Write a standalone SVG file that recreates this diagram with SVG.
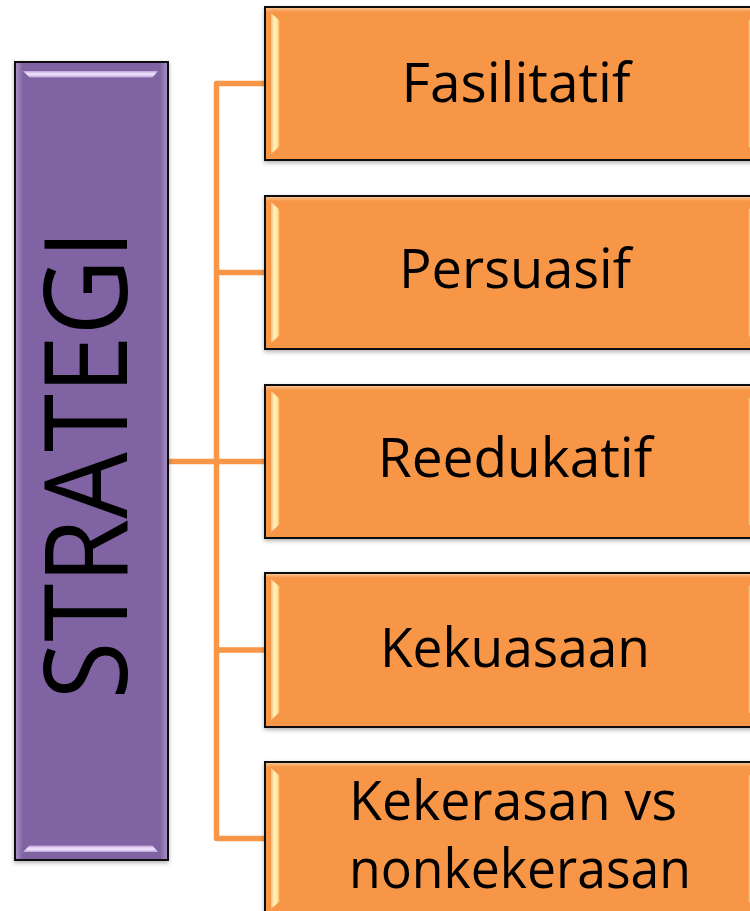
<svg xmlns="http://www.w3.org/2000/svg" width="750" height="911" viewBox="0 0 750 911">
  <style>
    .box-o { fill: #F79646; stroke: #111; stroke-width: 2; }
    .box-p { fill: #8064A2; stroke: #111; stroke-width: 2; }
    .lbl { font-family: "Open Sans", "Liberation Sans", sans-serif; font-size: 55px; fill: #000; text-anchor: middle; }
    .title { font-family: "Open Sans", "Liberation Sans", sans-serif; font-size: 115px; fill: #000; text-anchor: middle; }
    .conn { fill: none; stroke: #F79646; stroke-width: 5.5; stroke-linejoin: round; }
  </style>
  <defs>
    <filter id="sh" x="-5%" y="-5%" width="110%" height="110%">
      <feDropShadow dx="0" dy="2" stdDeviation="2" flood-color="#000" flood-opacity="0.3"/>
    </filter>
    <linearGradient id="hlL" x1="0" y1="0" x2="1" y2="0">
      <stop offset="0" stop-color="#F9B57C"/>
      <stop offset="0.35" stop-color="#FFF3B8"/>
      <stop offset="0.7" stop-color="#FFE6A0"/>
      <stop offset="1" stop-color="#F79646"/>
    </linearGradient>
    <linearGradient id="hlR" x1="1" y1="0" x2="0" y2="0">
      <stop offset="0" stop-color="#F9B57C"/>
      <stop offset="0.35" stop-color="#FFF3B8"/>
      <stop offset="0.7" stop-color="#FFE6A0"/>
      <stop offset="1" stop-color="#F79646"/>
    </linearGradient>
    <linearGradient id="edgeO" x1="0" y1="0" x2="0" y2="1">
      <stop offset="0" stop-color="#FBC28F"/>
      <stop offset="1" stop-color="#F79646"/>
    </linearGradient>
    <linearGradient id="hlT" x1="0" y1="0" x2="0" y2="1">
      <stop offset="0" stop-color="#B9A3D6"/>
      <stop offset="0.4" stop-color="#F1E3FF"/>
      <stop offset="0.75" stop-color="#D9C4F0"/>
      <stop offset="1" stop-color="#8064A2"/>
    </linearGradient>
    <linearGradient id="hlB" x1="0" y1="1" x2="0" y2="0">
      <stop offset="0" stop-color="#B9A3D6"/>
      <stop offset="0.4" stop-color="#F1E3FF"/>
      <stop offset="0.75" stop-color="#D9C4F0"/>
      <stop offset="1" stop-color="#8064A2"/>
    </linearGradient>
    <linearGradient id="sideP" x1="0" y1="0" x2="1" y2="0">
      <stop offset="0" stop-color="#A58FC4"/>
      <stop offset="1" stop-color="#8064A2"/>
    </linearGradient>
    <linearGradient id="sidePR" x1="1" y1="0" x2="0" y2="0">
      <stop offset="0" stop-color="#A58FC4"/>
      <stop offset="1" stop-color="#8064A2"/>
    </linearGradient>
    <g id="obevel">
      <rect x="1" y="1" width="496" height="4" fill="url(#edgeO)"/>
      <polygon points="6,6 15,14 15,139 6,147" fill="url(#hlL)"/>
      <polygon points="492,6 483,14 483,139 492,147" fill="url(#hlR)"/>
    </g>
  </defs>

  <g id="connectors">
    <path class="conn" d="M265,83.5 H216.5 V838.5 H265"/>
    <path class="conn" d="M216.5,272.5 H265"/>
    <path class="conn" d="M168,461.5 H265"/>
    <path class="conn" d="M216.5,650 H265"/>
  </g>

  <g id="strategi">
    <rect class="box-p" x="15" y="62" width="153" height="798" filter="url(#sh)"/>
    <rect x="16" y="63" width="7" height="796" fill="url(#sideP)"/>
    <rect x="160" y="63" width="7" height="796" fill="url(#sidePR)"/>
    <polygon points="23,71 158,71 152,78 30,78" fill="url(#hlT)"/>
    <polygon points="30,845 152,845 158,852 23,852" fill="url(#hlB)"/>
    <text class="title" transform="translate(127,464.5) rotate(-90)" x="0" y="0" textLength="470" lengthAdjust="spacingAndGlyphs">STRATEGI</text>
  </g>

  <g id="fasilitatif">
    <rect class="box-o" x="265" y="7" width="498" height="153" filter="url(#sh)"/>
    <use href="#obevel" x="265" y="7"/>
    <text class="lbl" x="516" y="102">Fasilitatif</text>
  </g>

  <g id="persuasif">
    <rect class="box-o" x="265" y="196" width="498" height="153" filter="url(#sh)"/>
    <use href="#obevel" x="265" y="196"/>
    <text class="lbl" x="515" y="288" textLength="232" lengthAdjust="spacingAndGlyphs">Persuasif</text>
  </g>

  <g id="reedukatif">
    <rect class="box-o" x="265" y="385" width="498" height="153" filter="url(#sh)"/>
    <use href="#obevel" x="265" y="385"/>
    <text class="lbl" x="515" y="477">Reedukatif</text>
  </g>

  <g id="kekuasaan">
    <rect class="box-o" x="265" y="573" width="498" height="154" filter="url(#sh)"/>
    <use href="#obevel" x="265" y="573"/>
    <text class="lbl" x="515" y="667" textLength="270" lengthAdjust="spacingAndGlyphs">Kekuasaan</text>
  </g>

  <g id="kekerasan">
    <rect class="box-o" x="265" y="762" width="498" height="153" filter="url(#sh)"/>
    <use href="#obevel" x="265" y="762"/>
    <text class="lbl" x="513" y="820" textLength="328" lengthAdjust="spacingAndGlyphs">Kekerasan vs</text>
    <text class="lbl" x="520" y="888" textLength="342" lengthAdjust="spacingAndGlyphs">nonkekerasan</text>
  </g>
</svg>
